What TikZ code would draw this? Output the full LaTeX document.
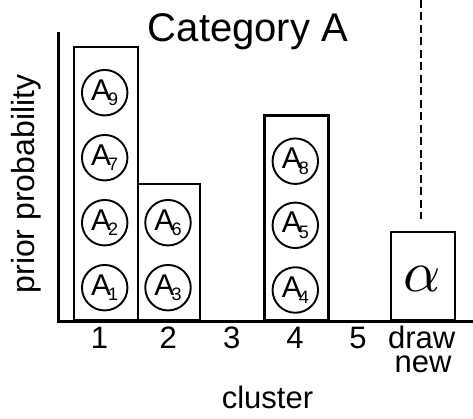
\documentclass[tikz,border=0pt]{standalone}
\usepackage{graphicx}
\usepackage{fontspec}
\setmainfont{Liberation Sans}
\newcommand{\clab}[1]{{\fontsize{30}{30}\selectfont A}\kern-3pt\raisebox{-5.5pt}{\fontsize{18}{18}\selectfont #1}}
\begin{document}
\begin{tikzpicture}[x=1pt,y=-1pt,
  bar/.style={draw, line width=2.2pt, rectangle, inner sep=0pt, anchor=south west},
  ball/.style={draw, line width=1.9pt, circle, minimum size=45.5pt, inner sep=0pt},
  axlab/.style={font=\fontsize{31}{31}\selectfont, anchor=base, inner sep=0pt},
  axis/.style={line width=2.2pt}]
\useasboundingbox (0,0) rectangle (473,419);
% axes
\coordinate (o) at (58.5,321.5);
\coordinate (ytop) at (58.5,32);
\coordinate (xend) at (473,321.5);
\draw[axis] (ytop) -- (o) -- (xend);
% bars
\node[bar, minimum width=64pt, minimum height=273pt] (b1) at (72.7,321.5) {};
\node[bar, minimum width=62.3pt, minimum height=136.5pt] (b2) at (136.7,321.5) {};
\node[bar, minimum width=64pt, minimum height=204.8pt] (b4) at (263.3,321.5) {};
\node[bar, minimum width=63.7pt, minimum height=88.2pt] (bn) at (390,321.5) {};
% balls
\node[ball] (a1) at (104.7,287.7) {\clab{1}};
\node[ball] (a2) at (104.7,222.7) {\clab{2}};
\node[ball] (a7) at (104.7,157.7) {\clab{7}};
\node[ball] (a9) at (104.7,92.7) {\clab{9}};
\node[ball] (a3) at (168,287.7) {\clab{3}};
\node[ball] (a6) at (168,222.7) {\clab{6}};
\node[ball] (a4) at (295.3,290) {\clab{4}};
\node[ball] (a5) at (295.3,225.3) {\clab{5}};
\node[ball] (a8) at (295.3,161.2) {\clab{8}};
% alpha
\node[inner sep=0pt] (alpha) at (421.8,279) {\scalebox{5.8}{$\alpha$}};
% dashed line
\coordinate (dtop) at (420.5,0);
\draw[line width=2pt, dash pattern=on 8pt off 4.5pt, shorten >=11.6pt] (dtop) -- (dtop |- bn.north);
% labels
\node[axlab] (t1) at (99.5,348.7) {1};
\node[axlab] (t2) at (168.3,348.7) {2};
\node[axlab] (t3) at (231.7,348.7) {3};
\node[axlab] (t4) at (295,348.7) {4};
\node[axlab] (t5) at (358,348.7) {5};
\node[axlab] (tdraw) at (421.7,348.7) {draw};
\node[axlab] (tnew) at (423,372.2) {new};
\node[axlab] (xl) at (267.5,408.3) {cluster};
\node[font=\fontsize{32}{32}\selectfont, anchor=base, inner sep=0pt, rotate=90] (yl) at (34,184) {prior probability};
\node[font=\fontsize{40}{40}\selectfont, anchor=base, inner sep=0pt] (title) at (248,41.7) {Category A};
\end{tikzpicture}
\end{document}
